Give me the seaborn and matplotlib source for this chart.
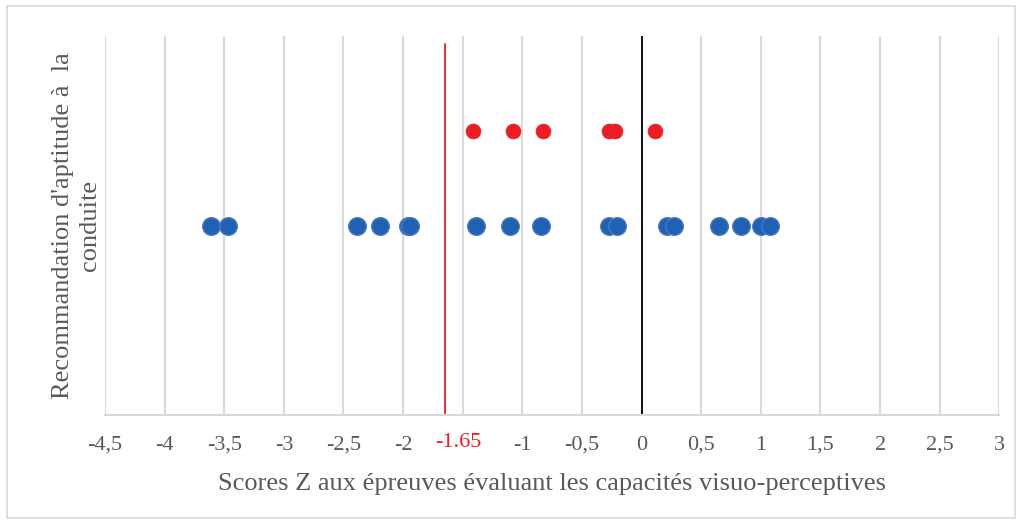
import numpy as np
import pandas as pd
import matplotlib
matplotlib.use('Agg')
import matplotlib.pyplot as plt
import matplotlib.patches as patches
import seaborn as sns

# Z scores
blue_scores = [-3.61, -3.47, -2.39, -2.19, -1.96, -1.94, -1.39, -1.10, -0.84,
               -0.27, -0.21, 0.21, 0.27, 0.65, 0.83, 1.00, 1.08]
red_scores = [-1.41, -1.08, -0.83, -0.27, -0.22, 0.11]
blue_level = 2
red_level = 3
threshold = -1.65
threshold_label = '-1.65'

x_ticks = np.arange(-4.5, 3.01, 0.5)
x_ticklabels = [('%g' % t).replace('.', ',') for t in x_ticks]

grey = '#595959'
grid_grey = '#D9D9D9'

sns.set_style('white')
plt.rcParams['font.family'] = ['Liberation Serif', 'DejaVu Serif']

fig = plt.figure(figsize=(10.22, 5.24), dpi=100)
ax = fig.add_axes([0.1027, 0.208, 0.8751, 0.7233])

# chart border
fig.patches.append(patches.Rectangle((0.007, 0.012), 0.986, 0.976, transform=fig.transFigure,
                                     fill=False, edgecolor=grid_grey, linewidth=1.2))

for t in x_ticks:
    ax.axvline(t, color=grid_grey, lw=1.5, zorder=0)

ax.axvline(0, color='black', lw=1.3, zorder=1)
ax.axvline(threshold, ymax=0.98, color='#EE1C25', lw=1.3, zorder=1)

blue_df = pd.DataFrame({'score': blue_scores, 'y': [blue_level] * len(blue_scores)})
red_df = pd.DataFrame({'score': red_scores, 'y': [red_level] * len(red_scores)})

sns.scatterplot(data=blue_df, x='score', y='y', ax=ax, s=160, color='#1F62B4',
                edgecolor='#4A75C6', linewidth=1.0, zorder=3)
sns.scatterplot(data=red_df, x='score', y='y', ax=ax, s=115, color='#EE1C25',
                edgecolor='#EE1C25', linewidth=0.5, zorder=3)

ax.set_xlim(-4.5, 3)
ax.set_ylim(0, 4)
ax.set_yticks([])
ax.set_xticks(x_ticks)
labels = [('' if abs(t + 1.5) < 1e-9 else l) for t, l in zip(x_ticks, x_ticklabels)]
ax.set_xticklabels(labels, fontsize=16, color=grey)
ax.tick_params(axis='x', length=8, width=1.5, color=grid_grey, direction='out', pad=7)

for side in ['top', 'right', 'left']:
    ax.spines[side].set_visible(False)
ax.spines['bottom'].set_color(grid_grey)
ax.spines['bottom'].set_linewidth(1.5)

ax.annotate(threshold_label, xy=(-1.54, 0), xycoords=('data', 'axes fraction'),
            xytext=(0, -20), textcoords='offset points', ha='center', va='center',
            fontsize=16, color='#EE1C25',
            bbox=dict(boxstyle='square,pad=0.25', facecolor='white', edgecolor='none'))

ax.set_xlabel('Scores Z aux épreuves évaluant les capacités visuo-perceptives',
              fontsize=19, color=grey, labelpad=13)
ax.set_ylabel("Recommandation d'aptitude à  la\nconduite", fontsize=19, color=grey,
              labelpad=3, linespacing=1.3)

fig.savefig('out.png', dpi=100)
